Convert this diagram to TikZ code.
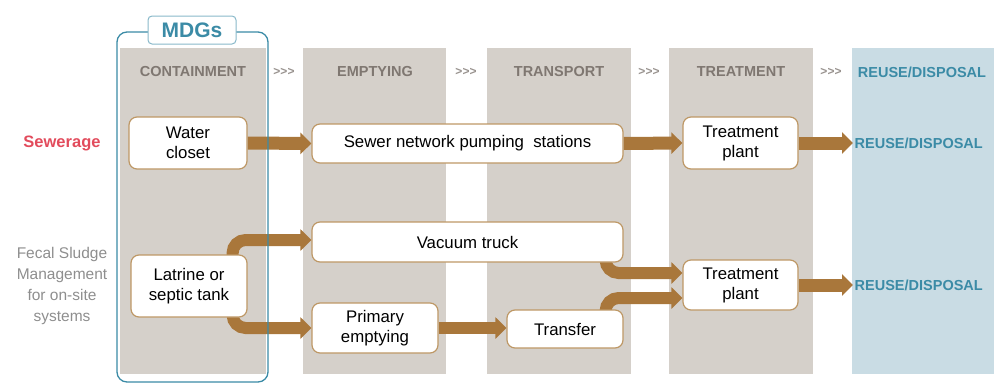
\documentclass[tikz,border=0pt]{standalone}
\usepackage{fontspec}
\setmainfont{Liberation Sans}
\usetikzlibrary{arrows.meta}

\definecolor{colgrey}{HTML}{D5D0CA}
\definecolor{colblue}{HTML}{C9DCE4}
\definecolor{flow}{HTML}{A9773B}
\definecolor{boxline}{HTML}{BE9866}
\definecolor{headgrey}{HTML}{7F7771}
\definecolor{mdgteal}{HTML}{3B8BA6}
\definecolor{sewred}{HTML}{E24B5C}
\definecolor{fsgrey}{HTML}{8E8E8E}

\pgfdeclarelayer{bg}
\pgfdeclarelayer{flowlayer}
\pgfsetlayers{bg,flowlayer,main}

\tikzset{
  procbox/.style={draw=boxline, line width=1.2pt, fill=white, rounded corners=8pt,
    font=\fontsize{16.8}{20}\selectfont, align=center, inner sep=2pt},
  flowarrow/.style={draw=flow, line width=13pt, rounded corners=13pt,
    -{Triangle[length=11pt,width=21pt]}},
  header/.style={font=\bfseries\fontsize{14.5}{16}\selectfont, text=headgrey},
  chev/.style={font=\bfseries\fontsize{12}{14}\selectfont, text=headgrey!80},
  reuse/.style={font=\bfseries\fontsize{14.5}{16}\selectfont, text=mdgteal, inner sep=1.5pt},
}

\begin{document}
\begin{tikzpicture}[x=1pt, y=-1pt]
\useasboundingbox (0,0) rectangle (994,383);

% stage columns
\begin{pgfonlayer}{bg}
\fill[colgrey] (120,48) rectangle (266,374);
\fill[colgrey] (303,48) rectangle (446,374);
\fill[colgrey] (487,48) rectangle (631,374);
\fill[colgrey] (669,48) rectangle (813,374);
\fill[colblue] (852,48) rectangle (994,374);
\end{pgfonlayer}

% MDG frame around containment, above the flow bands
\draw[mdgteal, line width=1.3pt, rounded corners=10pt] (117,32) rectangle (268,382);

% stage headers
\node[header] (hcont) at (193,72) {CONTAINMENT};
\node[header] (hempt) at (375,72) {EMPTYING};
\node[header] (htran) at (559,72) {TRANSPORT};
\node[header] (htreat) at (741,72) {TREATMENT};
\node[reuse] (hreuse) at (922,72) {REUSE/DISPOSAL};
\node[chev] (c1) at (284,72) {>{}>{}>};
\node[chev] (c2) at (466,72) {>{}>{}>};
\node[chev] (c3) at (649,72) {>{}>{}>};
\node[chev] (c4) at (831,72) {>{}>{}>};

% row labels
\node[font=\bfseries\fontsize{16.5}{19}\selectfont, text=sewred] (lsew) at (62,143) {Sewerage};
\node[font=\fontsize{15.5}{21}\selectfont, text=fsgrey, align=center] (lfsm) at (62,286)
  {Fecal Sludge\\Management\\for on-site\\systems};

% process boxes
\node[procbox, minimum width=118pt, minimum height=52pt] (wc) at (188,143) {Water\\closet};
\node[procbox, minimum width=311pt, minimum height=39pt] (sew) at (467.5,143.5) {Sewer network pumping\ \ stations};
\node[procbox, minimum width=115pt, minimum height=52pt] (tp1) at (740.5,143) {Treatment\\plant};
\node[reuse, anchor=west] (r1) at (853,143) {REUSE/DISPOSAL};

\node[procbox, minimum width=311pt, minimum height=40pt] (vac) at (467.5,242) {Vacuum truck};
\node[procbox, minimum width=116pt, minimum height=62pt] (lat) at (189,286) {Latrine or\\septic tank};
\node[procbox, minimum width=126pt, minimum height=50pt] (prim) at (375,328) {Primary\\emptying};
\node[procbox, minimum width=116pt, minimum height=38pt] (trans) at (565,329) {Transfer};
\node[procbox, minimum width=115pt, minimum height=50pt] (tp2) at (740.5,285) {Treatment\\plant};
\node[reuse, anchor=west] (r2) at (853,285) {REUSE/DISPOSAL};

% flow bands, kept behind the boxes
\begin{pgfonlayer}{flowlayer}
\draw[flowarrow] (wc.east) -- (sew.west);
\draw[flowarrow] (sew.east) -- (tp1.west);
\draw[flowarrow] (tp1.east) -- (r1.west);
\draw[flowarrow, line width=12pt] ([xshift=-15pt,yshift=-6pt]lat.north east) |- ([yshift=2pt]vac.west);
\draw[flowarrow, line width=12pt] ([xshift=-15pt,yshift=6pt]lat.south east) |- (prim.west);
\draw[flowarrow, line width=12pt] (prim.east) -- (prim.east -| trans.west);
\draw[flowarrow, line width=12pt] ([xshift=-18pt,yshift=6pt]vac.south east) |- ([yshift=12pt]tp2.west);
\draw[flowarrow, line width=12pt] ([xshift=-18pt,yshift=-6pt]trans.north east) |- ([yshift=-13pt]tp2.west);
\draw[flowarrow] (tp2.east) -- (r2.west);
\end{pgfonlayer}

% MDGs label
\node[draw=mdgteal!60, line width=1pt, fill=white, rounded corners=4pt,
  minimum width=88pt, minimum height=28pt, text=mdgteal,
  font=\bfseries\fontsize{21}{24}\selectfont] (mdg) at (192,30) {MDGs};
\end{tikzpicture}
\end{document}
